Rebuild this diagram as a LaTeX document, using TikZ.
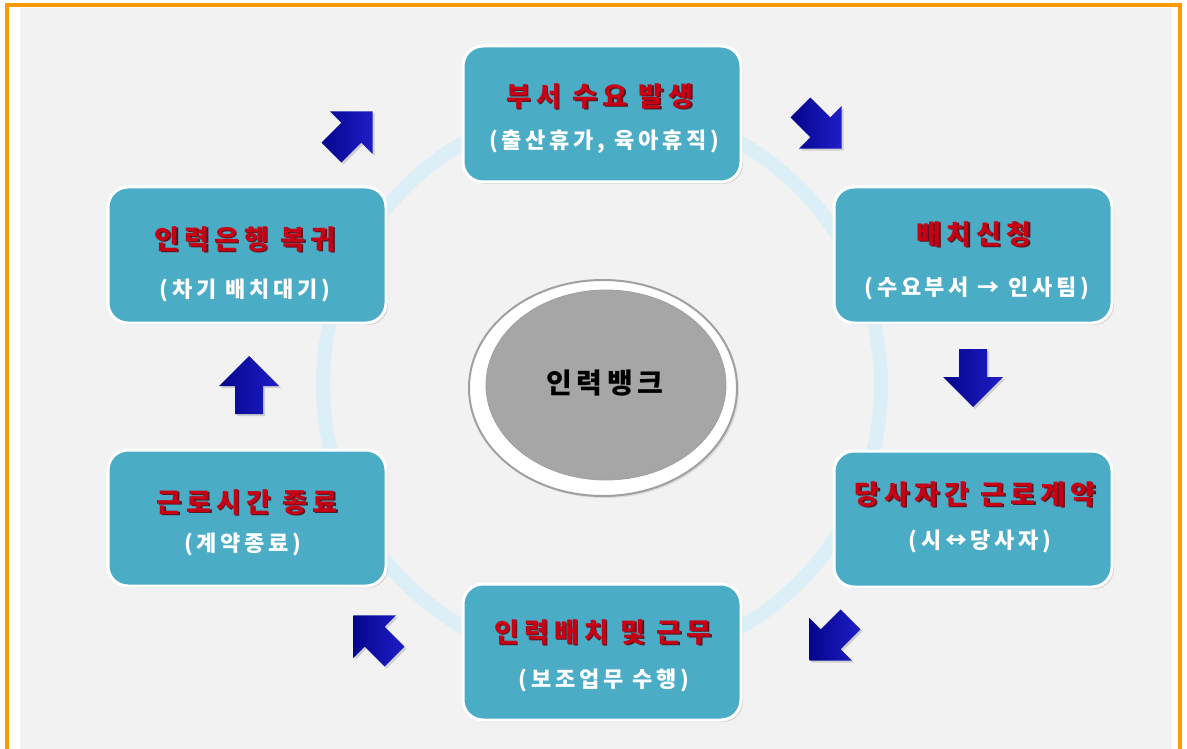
\documentclass[tikz,border=0pt]{standalone}
\usepackage{fontspec}
\newfontfamily\krtitle[LetterSpace=19]{Noto Sans CJK KR}
\newfontfamily\krsub[LetterSpace=17]{Noto Sans CJK KR}
\newfontfamily\krcenter[LetterSpace=17]{Noto Sans CJK KR}
\usetikzlibrary{shapes.geometric,shadows}
\definecolor{boxfill}{RGB}{75,172,198}
\definecolor{bggray}{RGB}{242,242,242}
\definecolor{frameorange}{RGB}{255,153,0}
\definecolor{ringblue}{RGB}{220,238,246}
\definecolor{titlered}{RGB}{200,0,20}
\definecolor{titleshadow}{RGB}{90,20,30}
\definecolor{arrowblue}{RGB}{30,30,200}
\definecolor{arrowdark}{RGB}{5,5,140}
\definecolor{coregray}{RGB}{166,166,166}
\definecolor{rimgray}{RGB}{160,160,160}
\tikzset{
  stagebox/.style={rectangle, rounded corners=20pt, minimum width=278pt, minimum height=136pt,
    fill=boxfill, draw=white, line width=3pt,
    drop shadow={opacity=0.25, shadow xshift=2pt, shadow yshift=-2pt}},
  titletext/.style={font=\krtitle\bfseries\fontsize{27}{29}\selectfont, text=titlered, inner sep=0pt},
  titleshade/.style={font=\krtitle\bfseries\fontsize{27}{29}\selectfont, text=titleshadow, inner sep=0pt},
  subtext/.style={font=\krsub\bfseries\fontsize{22}{24}\selectfont, text=white, inner sep=0pt},
  arrowfill/.style={left color=arrowdark, right color=arrowblue, draw=none,
    drop shadow={opacity=0.3, shadow xshift=2pt, shadow yshift=-2pt}},
  blockarrow/.pic={
    \path[arrowfill] (-29,-14) -- (-1,-14) -- (-1,-30) -- (29,0) -- (-1,30) -- (-1,14) -- (-29,14) -- cycle;
  },
}
\begin{document}
\begin{tikzpicture}[x=1pt,y=-1pt]
\useasboundingbox (0,0) rectangle (1187,749);
\fill[white] (0,0) rectangle (1187,749);
\fill[bggray] (20,8) rectangle (1172,749);
\draw[frameorange, line width=4pt] (6.5,749) -- (6.5,5) -- (1180,5) -- (1180,749);

% faint ring
\draw[ringblue, line width=14pt] (602,385) circle (279);

% centre
\node[ellipse, minimum width=268pt, minimum height=216pt, fill=white, draw=rimgray, line width=2pt,
      drop shadow={opacity=0.2, shadow xshift=2pt, shadow yshift=-2pt}] (rim) at (603,388) {};
\node[ellipse, minimum width=240pt, minimum height=190pt, fill=coregray, draw=rimgray, line width=0.8pt] (core) at (606,385) {};
\node[font=\krcenter\bfseries\fontsize{28}{30}\selectfont, text=black, inner sep=0pt] (ctext) at (605,383) {인력뱅크};

% boxes
\node[stagebox] (b1) at (602,114) {};
\node[stagebox] (b2) at (973,255) {};
\node[stagebox] (b3) at (973,519) {};
\node[stagebox] (b4) at (602,652) {};
\node[stagebox] (b5) at (247,518) {};
\node[stagebox] (b6) at (247,255) {};

% box texts
\node[titleshade] (t1s) at (601.5,97.5) {부서 수요 발생};
\node[titletext]  (t1)  at (600,96) {부서 수요 발생};
\node[subtext]    (s1)  at (604,142) {(출산휴가, 육아휴직)};

\node[titleshade] (t2s) at (975.5,235.5) {배치신청};
\node[titletext]  (t2)  at (974,234) {배치신청};
\node[subtext]    (s2)  at (977,288) {(수요부서 → 인사팀)};

\node[titleshade] (t3s) at (976.5,495.5) {당사자간 근로계약};
\node[titletext]  (t3)  at (975,494) {당사자간 근로계약};
\node[subtext]    (s3)  at (980,541) {(시↔당사자)};

\node[titleshade] (t4s) at (604.5,633.5) {인력배치 및 근무};
\node[titletext]  (t4)  at (603,632) {인력배치 및 근무};
\node[subtext]    (s4)  at (604,680) {(보조업무 수행)};

\node[titleshade] (t5s) at (248.5,503.5) {근로시간 종료};
\node[titletext]  (t5)  at (247,502) {근로시간 종료};
\node[subtext]    (s5)  at (243,544) {(계약종료)};

\node[titleshade] (t6s) at (246.5,240.5) {인력은행 복귀};
\node[titletext]  (t6)  at (245,239) {인력은행 복귀};
\node[subtext]    (s6)  at (245,290) {(차기 배치대기)};

% block arrows
\pic[rotate=45]   at (352,132) {blockarrow};
\pic[rotate=-45]  at (821,128) {blockarrow};
\pic[rotate=-90]  at (973,378) {blockarrow};
\pic[rotate=-135] at (830,640) {blockarrow};
\pic[rotate=135]  at (374,636) {blockarrow};
\pic[rotate=90]   at (249,385) {blockarrow};
\end{tikzpicture}
\end{document}
